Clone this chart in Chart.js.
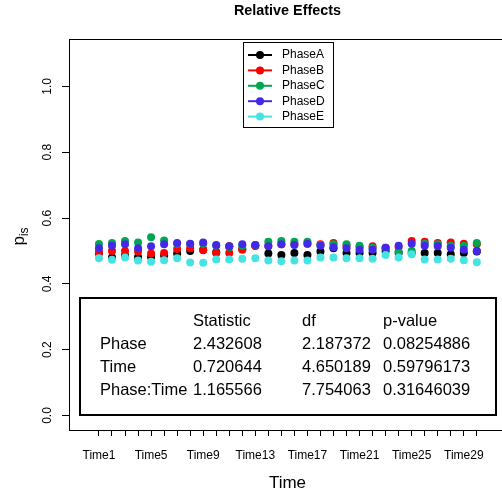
<!DOCTYPE html>
<html>
<head>
<meta charset="utf-8">
<script src="https://cdn.jsdelivr.net/npm/chart.js@4/dist/chart.umd.min.js"></script>
<style>
  html, body { margin: 0; padding: 0; background: #fff; overflow: hidden; }
  #wrap { width: 502px; height: 494px; overflow: hidden; position: relative; }
  canvas { position: absolute; left: 0; top: 0; }
</style>
</head>
<body>
<div id="wrap"><canvas id="chart" width="512" height="494"></canvas></div>
<script>
const times = ["Time1","Time2","Time3","Time4","Time5","Time6","Time7","Time8","Time9","Time10",
  "Time11","Time12","Time13","Time14","Time15","Time16","Time17","Time18","Time19","Time20",
  "Time21","Time22","Time23","Time24","Time25","Time26","Time27","Time28","Time29","Time30"];
const phaseA = [0.493,0.480,0.486,0.482,0.482,0.486,0.492,0.500,0.504,0.496,
  0.514,0.506,0.516,0.492,0.488,0.494,0.488,0.498,0.508,0.494,
  0.494,0.494,0.500,0.494,0.494,0.494,0.494,0.490,0.494,0.498];
const phaseB = [0.496,0.500,0.500,0.498,0.492,0.494,0.506,0.508,0.502,0.494,
  0.494,0.504,0.516,0.516,0.520,0.520,0.522,0.520,0.524,0.516,
  0.512,0.514,0.510,0.512,0.530,0.528,0.524,0.526,0.522,0.520];
const phaseC = [0.521,0.524,0.530,0.526,0.542,0.532,0.522,0.521,0.522,0.516,
  0.512,0.516,0.518,0.528,0.530,0.528,0.528,0.518,0.520,0.520,
  0.516,0.510,0.508,0.498,0.500,0.522,0.520,0.516,0.516,0.524];
const phaseD = [0.508,0.516,0.520,0.508,0.514,0.520,0.524,0.522,0.526,0.518,
  0.514,0.520,0.518,0.514,0.520,0.518,0.522,0.516,0.511,0.508,
  0.504,0.504,0.510,0.516,0.522,0.516,0.514,0.510,0.504,0.500];
const phaseE = [0.478,0.473,0.480,0.471,0.467,0.472,0.478,0.465,0.464,0.474,
  0.474,0.476,0.478,0.471,0.469,0.471,0.471,0.480,0.480,0.478,
  0.478,0.476,0.488,0.480,0.490,0.474,0.474,0.476,0.472,0.466];
const phaseNames = ["PhaseA","PhaseB","PhaseC","PhaseD","PhaseE"];
const phaseColors = ["#000000","#ff0000","#00a651","#4329e6","#47e3e3"];
const yTicks = [0, 0.2, 0.4, 0.6, 0.8, 1.0];

const tableHeader = ["", "Statistic", "df", "p-value"];
const tableRows = [
  ["Phase", "2.432608", "2.187372", "0.08254886"],
  ["Time", "0.720644", "4.650189", "0.59796173"],
  ["Phase:Time", "1.165566", "7.754063", "0.31646039"]
];

const FONT = "'Liberation Sans', Arial, sans-serif";
Chart.defaults.font.family = FONT;
Chart.defaults.color = "#000";

const series = [phaseA, phaseB, phaseC, phaseD, phaseE];
const datasets = series.map((vals, k) => ({
  label: phaseNames[k],
  data: vals.map((v, i) => ({ x: i + 1, y: v })),
  backgroundColor: phaseColors[k],
  borderColor: phaseColors[k],
  borderWidth: 0,
  pointRadius: 4,
  pointHoverRadius: 4,
  showLine: false,
  order: series.length - k
}));

const decorations = {
  id: "decorations",
  afterDraw(chart) {
    const ctx = chart.ctx;
    const a = chart.chartArea;
    const ys = chart.scales.y;
    ctx.save();
    // plot box
    ctx.strokeStyle = "#000";
    ctx.lineWidth = 1;
    ctx.strokeRect(a.left + 0.5, a.top + 0.5, a.right - a.left, a.bottom - a.top);

    // title
    const cx = (a.left + a.right) / 2;
    ctx.fillStyle = "#000";
    ctx.textAlign = "center";
    ctx.textBaseline = "middle";
    ctx.font = "bold 14.4px " + FONT;
    ctx.fillText("Relative Effects", cx, 11);

    // x title
    ctx.font = "17px " + FONT;
    ctx.fillText("Time", cx, 483);

    // y tick labels (rotated)
    ctx.font = "12px " + FONT;
    yTicks.forEach(v => {
      const py = ys.getPixelForValue(v);
      ctx.save();
      ctx.translate(48, py);
      ctx.rotate(-Math.PI / 2);
      ctx.textAlign = "center";
      ctx.textBaseline = "middle";
      ctx.fillText(v.toFixed(1), 0, 0);
      ctx.restore();
    });

    // y title p_is
    const cy = (a.top + a.bottom) / 2;
    ctx.save();
    ctx.translate(19, cy + 2);
    ctx.rotate(-Math.PI / 2);
    ctx.textAlign = "left";
    ctx.textBaseline = "alphabetic";
    ctx.font = "17px " + FONT;
    const wp = ctx.measureText("p").width;
    ctx.font = "12px " + FONT;
    const ws = ctx.measureText("is").width;
    const x0 = -(wp + ws) / 2;
    ctx.font = "17px " + FONT;
    ctx.fillText("p", x0, 5);
    ctx.font = "12px " + FONT;
    ctx.fillText("is", x0 + wp, 9);
    ctx.restore();

    // legend
    const lg = { left: 243, top: 42, right: 333, bottom: 127 };
    ctx.strokeStyle = "#000";
    ctx.lineWidth = 1;
    ctx.strokeRect(lg.left + 0.5, lg.top + 0.5, lg.right - lg.left, lg.bottom - lg.top);
    ctx.font = "12px " + FONT;
    ctx.textAlign = "left";
    ctx.textBaseline = "middle";
    phaseNames.forEach((name, k) => {
      const y = 55 + k * 15.4;
      ctx.strokeStyle = phaseColors[k];
      ctx.lineWidth = 2;
      ctx.beginPath();
      ctx.moveTo(248, y);
      ctx.lineTo(272, y);
      ctx.stroke();
      ctx.fillStyle = phaseColors[k];
      ctx.beginPath();
      ctx.arc(260, y, 4, 0, Math.PI * 2);
      ctx.fill();
      ctx.fillStyle = "#000";
      ctx.fillText(name, 282, y);
    });

    // statistics table
    ctx.strokeStyle = "#000";
    ctx.lineWidth = 2;
    ctx.strokeRect(80, 298, 416, 117);
    ctx.fillStyle = "#000";
    ctx.font = "16.5px " + FONT;
    ctx.textAlign = "left";
    ctx.textBaseline = "middle";
    const colX = [100, 193, 302, 383];
    const rowY = [321, 344, 367, 390];
    tableHeader.forEach((t, j) => ctx.fillText(t, colX[j], rowY[0]));
    tableRows.forEach((row, i) => {
      row.forEach((t, j) => ctx.fillText(t, colX[j], rowY[i + 1]));
    });
    ctx.restore();
  }
};

new Chart(document.getElementById("chart"), {
  type: "scatter",
  data: { datasets },
  options: {
    responsive: false,
    animation: false,
    events: [],
    layout: { padding: { top: 39, right: 6, left: 0, bottom: 0 } },
    plugins: {
      legend: { display: false },
      title: { display: false },
      tooltip: { enabled: false }
    },
    scales: {
      x: {
        type: "linear",
        min: -1.3,
        max: 32.24,
        border: { display: false },
        grid: { drawOnChartArea: false, drawTicks: true, tickLength: 6, color: "#000", lineWidth: 1 },
        afterBuildTicks: scale => { scale.ticks = times.map((t, i) => ({ value: i + 1 })); },
        afterFit: scale => { scale.height = 64; },
        ticks: {
          autoSkip: false,
          maxRotation: 0,
          minRotation: 0,
          padding: 12,
          font: { size: 12 },
          color: "#000",
          callback: v => ((v - 1) % 4 === 0 ? times[v - 1] : "")
        }
      },
      y: {
        type: "linear",
        min: -0.044,
        max: 1.144,
        border: { display: false },
        grid: { drawOnChartArea: false, drawTicks: true, tickLength: 7, color: "#000", lineWidth: 1 },
        afterBuildTicks: scale => { scale.ticks = yTicks.map(v => ({ value: v })); },
        afterFit: scale => { scale.width = 69; },
        ticks: { display: false }
      }
    }
  },
  plugins: [decorations]
});
</script>
</body>
</html>
